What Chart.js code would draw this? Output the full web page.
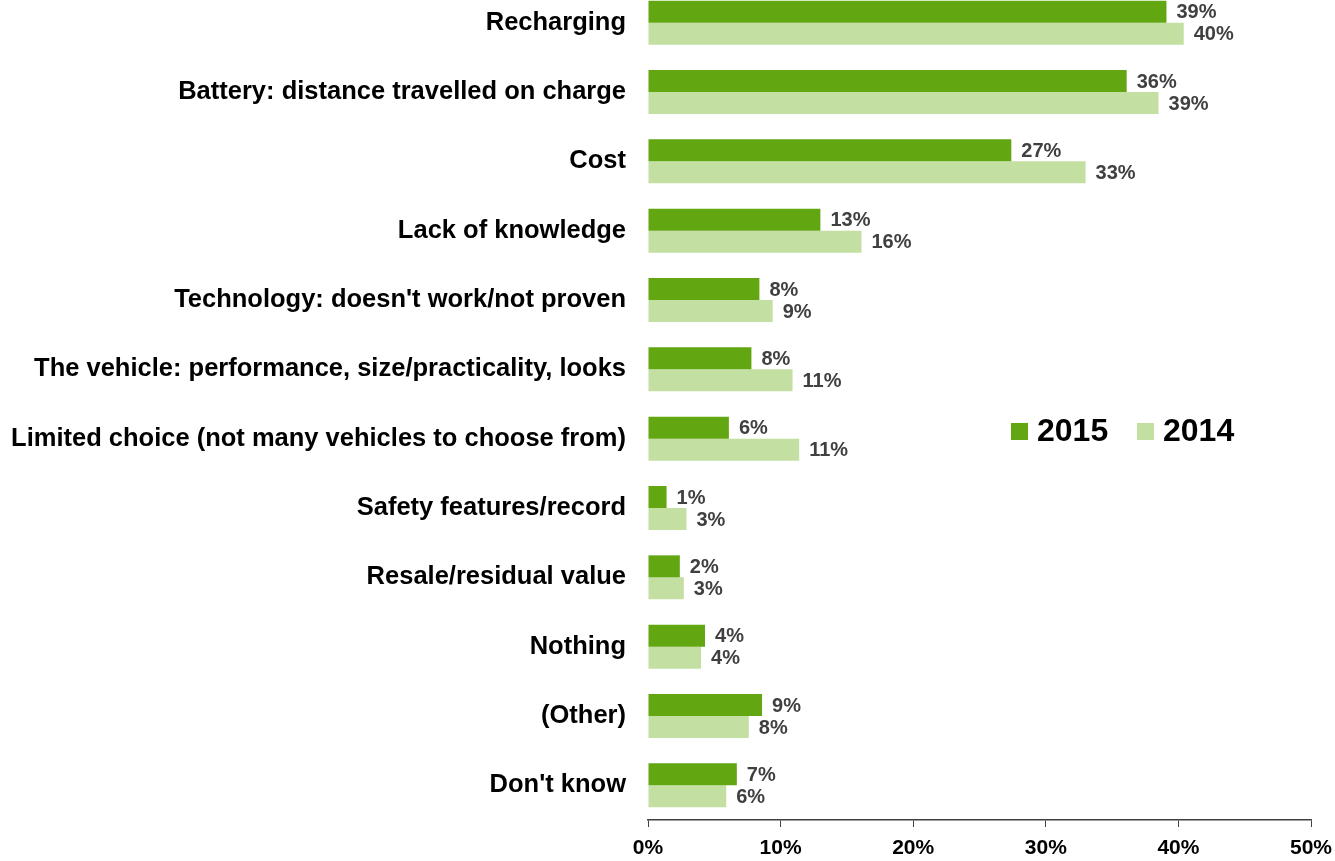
<!DOCTYPE html>
<html>
<head>
<meta charset="utf-8">
<script src="https://cdn.jsdelivr.net/npm/chart.js@4.4.1/dist/chart.umd.min.js"></script>
<style>
  html, body { margin: 0; padding: 0; background: #fff; overflow: hidden; }
  #wrap { position: absolute; left: 0; top: -12px; width: 1335px; height: 873px; }
</style>
</head>
<body>
<div id="wrap"><canvas id="chart"></canvas></div>
<script>
const categories = [
  'Recharging',
  'Battery: distance travelled on charge',
  'Cost',
  'Lack of knowledge',
  "Technology: doesn't work/not proven",
  'The vehicle: performance, size/practicality, looks',
  'Limited choice (not many vehicles to choose from)',
  'Safety features/record',
  'Resale/residual value',
  'Nothing',
  '(Other)',
  "Don't know"
];
const values2015 = [39.1, 36.1, 27.4, 13.0, 8.4, 7.8, 6.1, 1.4, 2.4, 4.3, 8.6, 6.7];
const values2014 = [40.4, 38.5, 33.0, 16.1, 9.4, 10.9, 11.4, 2.9, 2.7, 4.0, 7.6, 5.9];
const xTicks = [0, 10, 20, 30, 40, 50];

const DARK = '#62a612';
const LIGHT = '#c4dfa2';
const FONT = '"Liberation Sans", Arial, sans-serif';

// value labels at the end of each bar
const barLabels = {
  id: 'barLabels',
  afterDatasetsDraw(chart) {
    const ctx = chart.ctx;
    ctx.save();
    ctx.font = 'bold 20px ' + FONT;
    ctx.fillStyle = '#404040';
    ctx.textAlign = 'left';
    ctx.textBaseline = 'middle';
    chart.data.datasets.forEach((ds, i) => {
      chart.getDatasetMeta(i).data.forEach((bar, j) => {
        ctx.fillText(Math.round(ds.data[j]) + '%', bar.x + 10, bar.y + 1);
      });
    });
    ctx.restore();
  }
};

// legend sitting inside the plot area
const insideLegend = {
  id: 'insideLegend',
  afterDraw(chart, args, opts) {
    const ctx = chart.ctx;
    ctx.save();
    ctx.font = 'bold 32px ' + FONT;
    ctx.textBaseline = 'middle';
    ctx.textAlign = 'left';
    let x = opts.x;
    chart.data.datasets.forEach(ds => {
      ctx.fillStyle = ds.backgroundColor;
      ctx.fillRect(x, opts.y - 8, 17, 17);
      ctx.fillStyle = '#000';
      ctx.fillText(ds.label, x + 26, opts.y + 1);
      x += opts.gap;
    });
    ctx.restore();
  }
};

new Chart(document.getElementById('chart'), {
  type: 'bar',
  data: {
    labels: categories,
    datasets: [
      { label: '2015', data: values2015, backgroundColor: DARK },
      { label: '2014', data: values2014, backgroundColor: LIGHT }
    ]
  },
  options: {
    indexAxis: 'y',
    responsive: true,
    maintainAspectRatio: false,
    animation: false,
    layout: { padding: { left: 0, right: 24, top: 0, bottom: 0 } },
    datasets: {
      bar: { categoryPercentage: 0.634, barPercentage: 1.0 }
    },
    scales: {
      x: {
        min: 0,
        max: 50,
        afterBuildTicks: scale => { scale.ticks = xTicks.map(v => ({ value: v })); },
        afterFit: scale => {
          scale.height = 41;
          scale.paddingLeft = 0;
          scale.paddingRight = 0;
        },
        ticks: {
          callback: v => v + '%',
          color: '#000',
          font: { family: FONT, size: 21, weight: 'bold' },
          padding: 9,
          maxRotation: 0
        },
        grid: {
          drawOnChartArea: false,
          drawTicks: true,
          tickLength: 7,
          color: '#404040'
        },
        border: { display: true, color: '#404040', width: 1.5 }
      },
      y: {
        afterFit: scale => {
          scale.width = 648;
          scale.paddingTop = 0;
          scale.paddingBottom = 0;
        },
        ticks: {
          color: '#000',
          font: { family: FONT, size: 25.5, weight: 'bold' },
          padding: 14
        },
        grid: { display: false },
        border: { display: false }
      }
    },
    plugins: {
      legend: { display: false },
      tooltip: { enabled: false },
      insideLegend: { x: 1011, y: 443, gap: 126 }
    }
  },
  plugins: [barLabels, insideLegend]
});
</script>
</body>
</html>
